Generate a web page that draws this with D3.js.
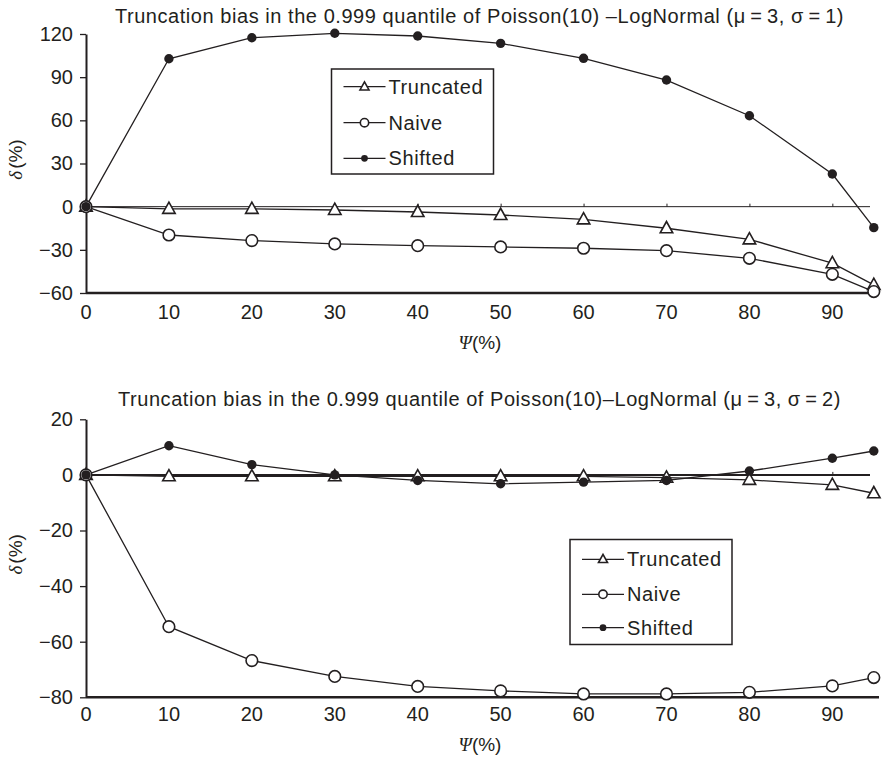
<!DOCTYPE html>
<html>
<head>
<meta charset="utf-8">
<script src="https://cdn.jsdelivr.net/npm/d3@7"></script>
<style>
  html, body { margin: 0; padding: 0; background: #fff; }
  svg { display: block; font-family: "Liberation Sans", Arial, Helvetica, sans-serif; }
</style>
</head>
<body>
<svg id="chart" width="882" height="760"></svg>
<script>
// Truncation threshold Ψ (%) on the horizontal axis
const psi = [0, 10, 20, 30, 40, 50, 60, 70, 80, 90, 95];

// Panel 1: Poisson(10)–LogNormal (μ=3, σ=1), bias δ (%)
const truncated1 = [0, -1.5, -1.5, -2.3, -3.7, -5.8, -8.8, -15, -22.7, -39.3, -54.4];
const naive1     = [0, -19.7, -23.6, -25.9, -27.1, -28, -28.9, -30.6, -35.9, -47, -59];
const shifted1   = [0, 102.8, 117.4, 120.5, 118.6, 113.5, 103.1, 88, 63.2, 22.7, -14.6];
const yTicks1    = [-60, -30, 0, 30, 60, 90, 120];

// Panel 2: Poisson(10)–LogNormal (μ=3, σ=2), bias δ (%)
const truncated2 = [0, -0.5, -0.5, -0.5, -0.5, -0.5, -0.5, -1, -1.8, -3.6, -6.6];
const naive2     = [0, -54.6, -66.8, -72.5, -76.1, -77.7, -78.8, -78.8, -78.2, -75.9, -72.9];
const shifted2   = [0, 10.5, 3.7, 0, -2, -3.2, -2.6, -2, 1.4, 6, 8.6];
const yTicks2    = [-80, -60, -40, -20, 0, 20];

const xTicks = [0, 10, 20, 30, 40, 50, 60, 70, 80, 90];
const seriesNames = ["Truncated", "Naive", "Shifted"];
const titles = [
  "Truncation bias in the 0.999 quantile of Poisson(10) \u2013LogNormal (\u03bc\u2009=\u20093, \u03c3\u2009=\u20091)",
  "Truncation bias in the 0.999 quantile of Poisson(10)\u2013LogNormal (\u03bc\u2009=\u20093, \u03c3\u2009=\u20092)"
];

const INK = "#231f20";
const svg = d3.select("#chart");

const x = d3.scaleLinear().domain([0, 95]).range([86, 873.8]);

const panels = [
  { title: titles[0], titleY: 22.5, yDomain: [-60, 120], yRange: [293, 34], ticks: yTicks1,
    series: [truncated1, naive1, shifted1], zeroWidth: 1, tickLabelY: 319, xTitleY: 349,
    legend: { x: 331.5, y: 69, w: 162, h: 105, rowY: [86.7, 122.7, 158.3] } },
  { title: titles[1], titleY: 405.5, yDomain: [-80, 20], yRange: [697.3, 419.3], ticks: yTicks2,
    series: [truncated2, naive2, shifted2], zeroWidth: 2, tickLabelY: 720.5, xTitleY: 751,
    legend: { x: 570, y: 539.5, w: 162, h: 105, rowY: [559.3, 594.3, 627.7] } }
];

// marker painters: open triangle, open circle, filled dot
function drawMarker(g, kind, cx, cy, scale) {
  if (kind === 0) {
    const s = 12.5 * scale, h = s * 0.9;
    g.append("path")
      .attr("d", `M${cx},${cy - h * 0.6}L${cx + s / 2},${cy + h * 0.4}L${cx - s / 2},${cy + h * 0.4}Z`)
      .attr("fill", "#fff").attr("stroke", INK).attr("stroke-width", 1.6);
  } else if (kind === 1) {
    g.append("circle").attr("cx", cx).attr("cy", cy).attr("r", 5.8 * scale)
      .attr("fill", "#fff").attr("stroke", INK).attr("stroke-width", 1.6);
  } else {
    g.append("circle").attr("cx", cx).attr("cy", cy).attr("r", 4.7 * scale)
      .attr("fill", INK);
  }
}

panels.forEach(p => {
  const y = d3.scaleLinear().domain(p.yDomain).range(p.yRange);
  const g = svg.append("g");
  const x0 = x(0);

  // title
  g.append("text").attr("x", 479.5).attr("y", p.titleY)
    .attr("text-anchor", "middle").attr("font-size", 20).attr("letter-spacing", 0.55)
    .attr("fill", INK).text(p.title);

  // left axis
  const yAxis = d3.axisLeft(y).tickValues(p.ticks).tickSize(6).tickSizeOuter(0).tickPadding(7)
    .tickFormat(d => d < 0 ? "\u2212" + Math.abs(d) : d);
  const ya = g.append("g").attr("transform", `translate(${x0},0)`).call(yAxis);
  ya.select(".domain").attr("stroke", INK).attr("stroke-width", 2);
  ya.selectAll(".tick line").attr("stroke", INK).attr("stroke-width", 1.3);
  ya.selectAll(".tick text").attr("font-size", 20).attr("fill", INK)
    .attr("font-family", "Liberation Sans, Arial, sans-serif");

  // bottom frame line
  g.append("line").attr("x1", x0).attr("x2", 879).attr("y1", y(p.yDomain[0])).attr("y2", y(p.yDomain[0]))
    .attr("stroke", INK).attr("stroke-width", 2.5);

  // horizontal axis on the zero line with short upward ticks
  const zAxis = d3.axisTop(x).tickValues(xTicks.slice(1)).tickSize(3).tickSizeOuter(0).tickFormat("");
  const za = g.append("g").attr("transform", `translate(0,${y(0)})`).call(zAxis);
  za.select(".domain").attr("d", `M${x0},0H870`).attr("stroke", INK).attr("stroke-width", p.zeroWidth);
  za.selectAll(".tick line").attr("stroke", INK).attr("stroke-width", 1);

  // category labels below the frame
  g.selectAll(".xl").data(xTicks).enter().append("text")
    .attr("x", d => x(d)).attr("y", p.tickLabelY)
    .attr("text-anchor", "middle").attr("font-size", 20).attr("fill", INK)
    .text(d => d);

  // axis titles
  const xt = g.append("text").attr("x", 480).attr("y", p.xTitleY)
    .attr("text-anchor", "middle").attr("font-size", 19).attr("fill", INK);
  xt.append("tspan").attr("font-family", "Liberation Serif, Times New Roman, serif")
    .attr("font-style", "italic").text("\u03a8");
  xt.append("tspan").text("(%)");

  const ymid = (p.yRange[0] + p.yRange[1]) / 2 - 4;
  const yt = g.append("text").attr("transform", `translate(22,${ymid}) rotate(-90)`)
    .attr("text-anchor", "middle").attr("font-size", 19).attr("fill", INK);
  yt.append("tspan").attr("font-family", "Liberation Serif, Times New Roman, serif")
    .attr("font-style", "italic").text("\u03b4");
  yt.append("tspan").attr("dx", 2).text("(%)");

  // series lines and markers
  const line = d3.line().x((d, i) => x(psi[i])).y(d => y(d));
  p.series.forEach(vals => {
    g.append("path").datum(vals).attr("d", line)
      .attr("fill", "none").attr("stroke", INK).attr("stroke-width", 1.3);
  });
  p.series.forEach((vals, k) => {
    const mg = g.append("g");
    vals.forEach((v, i) => drawMarker(mg, k, x(psi[i]), y(v), 1));
  });

  // legend
  const L = p.legend;
  const lg = g.append("g");
  lg.append("rect").attr("x", L.x).attr("y", L.y).attr("width", L.w).attr("height", L.h)
    .attr("fill", "#fff").attr("stroke", INK).attr("stroke-width", 1.5);
  seriesNames.forEach((name, k) => {
    const ry = L.rowY[k];
    lg.append("line").attr("x1", L.x + 12).attr("x2", L.x + 54).attr("y1", ry).attr("y2", ry)
      .attr("stroke", INK).attr("stroke-width", 1.3);
    drawMarker(lg, k, L.x + 33, ry, 0.72);
    lg.append("text").attr("x", L.x + 57).attr("y", ry + 7)
      .attr("font-size", 20).attr("letter-spacing", 0.6).attr("fill", INK).text(name);
  });
});
</script>
</body>
</html>
